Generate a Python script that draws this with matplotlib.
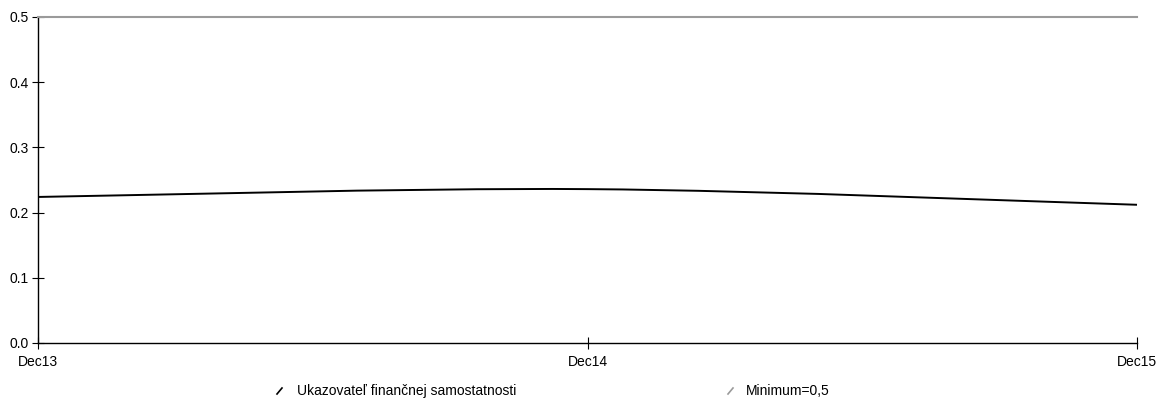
import matplotlib.pyplot as plt
from matplotlib.lines import Line2D
from matplotlib.path import Path
from matplotlib.patches import PathPatch

periods = ["Dec13", "Dec14", "Dec15"]
ratio = [0.224, 0.236, 0.212]
minimum = [0.5, 0.5, 0.5]
yticks = [0.0, 0.1, 0.2, 0.3, 0.4, 0.5]

plt.rcParams["font.family"] = ["Liberation Sans", "DejaVu Sans"]

W, H = 1172, 401
fig = plt.figure(figsize=(W / 100, H / 100), dpi=100)
ax = fig.add_axes([38 / W, 1 - 343 / H, (1137 - 38) / W, (343 - 17) / H])

x = list(range(len(periods)))
ax.plot(x, minimum, color="#9a9a9a", lw=1.5, clip_on=False, zorder=3)

# smooth line through the data points (Catmull-Rom style bezier segments)
pts = list(zip(x, ratio))
verts = [pts[0]]
codes = [Path.MOVETO]
for i in range(len(pts) - 1):
    p0 = pts[i - 1] if i > 0 else pts[i]
    p1, p2 = pts[i], pts[i + 1]
    p3 = pts[i + 2] if i + 2 < len(pts) else pts[i + 1]
    c1 = (p1[0] + (p2[0] - p0[0]) / 6, p1[1] + (p2[1] - p0[1]) / 6)
    c2 = (p2[0] - (p3[0] - p1[0]) / 6, p2[1] - (p3[1] - p1[1]) / 6)
    verts += [c1, c2, p2]
    codes += [Path.CURVE4] * 3
ax.add_patch(PathPatch(Path(verts, codes), fill=False, ec="black", lw=1.4,
                       clip_on=False, zorder=4))

ax.set_xlim(0, 2)
ax.set_ylim(0, 0.5)
ax.set_xticks(x)
ax.set_xticklabels(periods)
ax.set_yticks(yticks)
ax.set_yticklabels(["%.1f" % v for v in yticks])
ax.tick_params(axis="both", direction="inout", length=9, width=0.8,
               labelsize=10, color="black", pad=2)
ax.tick_params(axis="x", pad=4)
for s in ["top", "right"]:
    ax.spines[s].set_visible(False)
for s in ["left", "bottom"]:
    ax.spines[s].set_linewidth(1.0)

# legend below the plot
entries = [("Ukazovateľ finančnej samostatnosti", "black", 277, 297),
           ("Minimum=0,5", "#9a9a9a", 728, 746)]
for label, col, mx, tx in entries:
    fig.add_artist(Line2D([mx / W, (mx + 5) / W], [1 - 394 / H, 1 - 388 / H],
                          color=col, lw=1.2))
    fig.text(tx / W, 1 - 391 / H, label, fontsize=10, va="center", ha="left")

fig.savefig("out.png", dpi=100)
